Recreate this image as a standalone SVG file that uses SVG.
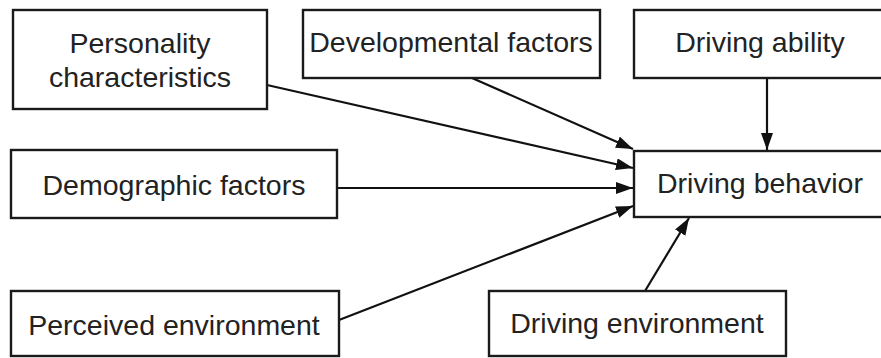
<svg xmlns="http://www.w3.org/2000/svg" width="881" height="358" viewBox="0 0 881 358">
<style>
.box{fill:#fff;stroke:#1a1a1a;stroke-width:2.4}
.lbl{font-family:"Liberation Sans",Arial,sans-serif;font-size:28.5px;fill:#222;text-anchor:middle}
.conn{stroke:#111;stroke-width:2.2;fill:none;marker-end:url(#ah)}
</style>
<defs>
<marker id="ah" markerUnits="userSpaceOnUse" markerWidth="20" markerHeight="14" refX="17" refY="6" orient="auto">
<path d="M0,0 L17,6 L0,12 Z" fill="#111"/>
</marker>
</defs>
<rect width="881" height="358" fill="#fff"/>
<g id="connectors">
<line class="conn" x1="267" y1="85" x2="633" y2="168"/>
<line class="conn" x1="472" y1="78" x2="633" y2="149"/>
<line class="conn" x1="767" y1="78" x2="767" y2="150"/>
<line class="conn" x1="337" y1="188" x2="633" y2="188"/>
<line class="conn" x1="339" y1="320" x2="633" y2="206"/>
<line class="conn" x1="645" y1="291" x2="689" y2="218"/>
</g>
<g id="personality">
<rect class="box" x="13" y="10" width="254" height="99"/>
<text class="lbl" x="140" y="53">Personality</text>
<text class="lbl" x="140" y="87">characteristics</text>
</g>
<g id="developmental">
<rect class="box" x="303" y="10" width="297" height="68"/>
<text class="lbl" x="451" y="52">Developmental factors</text>
</g>
<g id="ability">
<rect class="box" x="634" y="10" width="260" height="68"/>
<text class="lbl" x="760" y="52">Driving ability</text>
</g>
<g id="demographic">
<rect class="box" x="11" y="150" width="326" height="68"/>
<text class="lbl" x="174" y="195">Demographic factors</text>
</g>
<g id="behavior">
<rect class="box" x="634" y="151" width="260" height="66"/>
<text class="lbl" x="760" y="193">Driving behavior</text>
</g>
<g id="perceived">
<rect class="box" x="11" y="291" width="328" height="65"/>
<text class="lbl" x="174" y="335">Perceived environment</text>
</g>
<g id="environment">
<rect class="box" x="489" y="291" width="297" height="65"/>
<text class="lbl" x="637" y="333">Driving environment</text>
</g>
</svg>
